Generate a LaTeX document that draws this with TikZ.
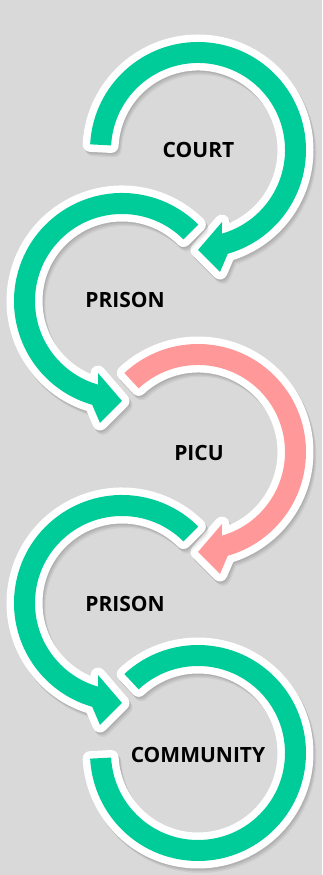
\documentclass[tikz,border=0pt]{standalone}
\usepackage{fontspec}
\newfontfamily\lblfont{Open Sans}
\definecolor{bgc}{HTML}{D9D9D9}
\definecolor{grn}{HTML}{00CC99}
\definecolor{pnk}{HTML}{FF9999}
\tikzset{
  arrowbody/.style={fill=#1, preaction={draw=white, line width=15pt, line join=round}},
  arrowshade/.style={draw=black, line width=15pt, line join=round, draw opacity=#1},
  lbl/.style={font=\lblfont\bfseries\fontsize{21}{25}\selectfont, text=black, inner sep=0pt}
}
% clockwise arrow: #1 x, #2 y, #3 start angle, #4 colour
\newcommand{\cwarrow}[4]{%
  \begin{scope}[shift={(#1,#2)}]
    \foreach \dx/\dy/\op in {1/-1.5/0.07, 2/-3/0.07, 3/-4.5/0.05}{
      \path[arrowshade=\op, shift={(\dx,\dy)}] (#3:108) arc[start angle=#3, end angle=-74, radius=108]
        -- (22,-122) -- (0,-100) -- (24,-72) -- (-74:87) arc[start angle=-74, end angle=#3, radius=87] -- cycle;}
    \path[arrowbody=#4] (#3:108) arc[start angle=#3, end angle=-74, radius=108]
      -- (22,-122) -- (0,-100) -- (24,-72) -- (-74:87) arc[start angle=-74, end angle=#3, radius=87] -- cycle;
  \end{scope}}
% counter-clockwise arrow starting at 45 deg
\newcommand{\ccwarrow}[3]{%
  \begin{scope}[shift={(#1,#2)}]
    \foreach \dx/\dy/\op in {1/-1.5/0.07, 2/-3/0.07, 3/-4.5/0.05}{
      \path[arrowshade=\op, shift={(\dx,\dy)}] (45:87) arc[start angle=45, end angle=254, radius=87]
        -- (-24,-72) -- (0,-100) -- (-22,-122) -- (254:108) arc[start angle=254, end angle=45, radius=108] -- cycle;}
    \path[arrowbody=#3] (45:87) arc[start angle=45, end angle=254, radius=87]
      -- (-24,-72) -- (0,-100) -- (-22,-122) -- (254:108) arc[start angle=254, end angle=45, radius=108] -- cycle;
  \end{scope}}
\begin{document}
\begin{tikzpicture}[x=1pt,y=1pt]
  \fill[bgc] (0,0) rectangle (322,875);
  \useasboundingbox (0,0) rectangle (322,875);
  % arrows, top to bottom
  \cwarrow{198}{725}{177}{grn}
  \ccwarrow{122}{574}{grn}
  \cwarrow{198}{423}{133}{pnk}
  \ccwarrow{122}{272}{grn}
  % final ring (no head)
  \begin{scope}[shift={(198,122)}]
    \foreach \dx/\dy/\op in {1/-1.5/0.07, 2/-3/0.07, 3/-4.5/0.05}{
      \path[arrowshade=\op, shift={(\dx,\dy)}] (133:108) arc[start angle=133, end angle=-177, radius=108]
        -- (-177:87) arc[start angle=-177, end angle=133, radius=87] -- cycle;}
    \path[arrowbody=grn] (133:108) arc[start angle=133, end angle=-177, radius=108]
      -- (-177:87) arc[start angle=-177, end angle=133, radius=87] -- cycle;
  \end{scope}
  % labels
  \node[lbl] (court) at (198.5,725) {COURT};
  \node[lbl] (prisonA) at (125,575) {PRISON};
  \node[lbl] (picu) at (199,422) {PICU};
  \node[lbl] (prisonB) at (125,271) {PRISON};
  \node[lbl] (community) at (198,120) {COMMUNITY};
\end{tikzpicture}
\end{document}
